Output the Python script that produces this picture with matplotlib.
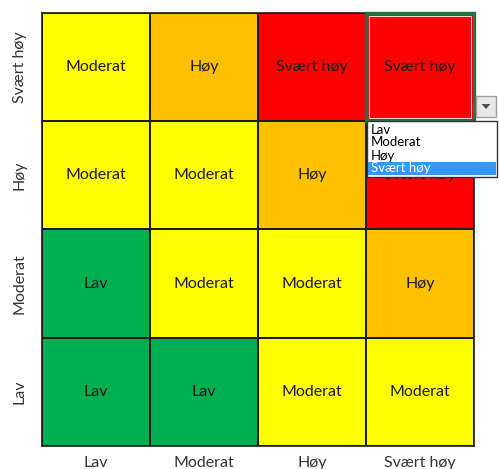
import matplotlib
matplotlib.use("Agg")
import matplotlib.pyplot as plt
from matplotlib.colors import ListedColormap
from matplotlib.patches import Rectangle, Polygon
import numpy as np

levels = ["Lav", "Moderat", "Høy", "Svært høy"]
x_labels = ["Lav", "Moderat", "Høy", "Svært høy"]
y_labels = ["Lav", "Moderat", "Høy", "Svært høy"]  # bottom to top
# risk per row (bottom row first), columns left to right
row_lav = ["Lav", "Lav", "Moderat", "Moderat"]
row_moderat = ["Lav", "Moderat", "Moderat", "Høy"]
row_hoy = ["Moderat", "Moderat", "Høy", "Svært høy"]
row_svaert = ["Moderat", "Høy", "Svært høy", "Svært høy"]
level_colors = ["#00B050", "#FFFF00", "#FFC000", "#FF0000"]
dropdown_items = ["Lav", "Moderat", "Høy", "Svært høy"]
selected_item = "Svært høy"

plt.rcParams['font.family'] = ['Lato', 'DejaVu Sans']

grid = [row_lav, row_moderat, row_hoy, row_svaert]
idx = np.array([[levels.index(v) for v in r] for r in grid])

W, H = 499, 469
fig = plt.figure(figsize=(W / 100, H / 100), dpi=100)
ax = fig.add_axes([42 / W, (H - 446) / H, 432 / W, 433 / H])
cmap = ListedColormap(level_colors)
ax.pcolormesh(np.arange(5), np.arange(5), idx, cmap=cmap, vmin=-0.5, vmax=3.5,
              edgecolors="#1a1a1a", linewidth=1.2)
for r in range(4):
    for c in range(4):
        ax.text(c + 0.5, r + 0.5, grid[r][c], ha="center", va="center",
                fontsize=11.5, color="#1a1a1a")
ax.set_xlim(0, 4)
ax.set_ylim(0, 4)
ax.set_xticks(np.arange(4) + 0.5)
ax.set_xticklabels(x_labels, fontsize=11.5, color="#333333")
ax.set_yticks(np.arange(4) + 0.5)
ax.set_yticklabels(y_labels, fontsize=11.5, color="#333333", rotation=90, va="center")
ax.tick_params(length=0, pad=7)
ax.tick_params(axis="y", pad=11)
for s in ax.spines.values():
    s.set_linewidth(1.2)
    s.set_color("#1a1a1a")

# selection border around top-right cell
ax.add_patch(Rectangle((3, 3), 1, 1, fill=False, edgecolor="#217346", linewidth=2.4,
                       zorder=5, clip_on=False))
ax.add_patch(Rectangle((3.03, 3.03), 0.94, 0.94, fill=False, edgecolor="white",
                       linewidth=0.6, zorder=5))

# dropdown widget overlay (figure pixel coordinates)
ov = fig.add_axes([0, 0, 1, 1])
ov.set_xlim(0, W)
ov.set_ylim(H, 0)
ov.axis("off")
ov.patch.set_alpha(0)
ov.add_patch(Rectangle((472, 119), 4, 4, facecolor="#217346", edgecolor="none", zorder=6))
ov.add_patch(Rectangle((476, 96), 20, 21, facecolor="#E8E8E8", edgecolor="#A0A0A0",
                       linewidth=1, zorder=6))
ov.add_patch(Polygon([[481.5, 104], [490.5, 104], [486, 109]], closed=True,
                     facecolor="#505050", edgecolor="none", zorder=7))
ov.add_patch(Rectangle((367, 121), 130, 56, facecolor="white", edgecolor="#333333",
                       linewidth=1, zorder=6))
line_h = 13
for i, item in enumerate(dropdown_items):
    y0 = 123 + i * line_h
    if item == selected_item:
        ov.add_patch(Rectangle((368, y0), 128, line_h, facecolor="#3399FF",
                               edgecolor="none", zorder=7))
        col = "white"
    else:
        col = "black"
    ov.text(371, y0 + line_h / 2, item, ha="left", va="center", fontsize=9.5,
            color=col, zorder=8)

fig.savefig("out.png", dpi=100)
